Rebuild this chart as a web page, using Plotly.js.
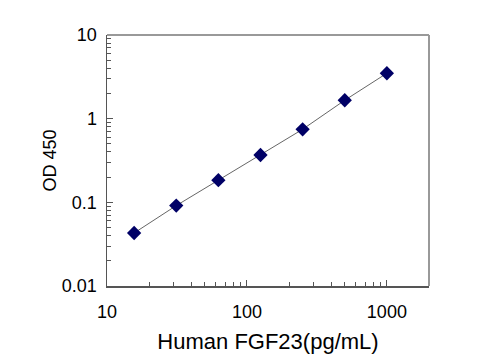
<!DOCTYPE html>
<html>
<head>
<meta charset="utf-8">
<script src="https://cdn.plot.ly/plotly-3.0.1.min.js"></script>
<style>html,body{margin:0;padding:0;background:#fff;}#chart{width:500px;height:360px;}</style>
</head>
<body>
<div id="chart"></div>
<script>
var concentration = [15.625, 31.25, 62.5, 125, 250, 500, 1000];
var od450 = [0.043, 0.0914, 0.184, 0.368, 0.746, 1.66, 3.49];
var xTickVals = [10, 100, 1000];
var xTickText = ["10", "100", "1000"];
var yTickVals = [0.01, 0.1, 1, 10];
var yTickText = ["0.01", "0.1", "1", "10"];

var traces = [
  {
    x: concentration, y: od450, type: 'scatter', mode: 'lines',
    line: {color: '#666666', width: 1}, hoverinfo: 'skip', showlegend: false
  },
  {
    x: concentration, y: od450, type: 'scatter', mode: 'markers',
    marker: {symbol: 'diamond', size: 11, color: '#000066', line: {width: 0}},
    showlegend: false
  }
];

var layout = {
  width: 500, height: 360,
  margin: {l: 107, r: 71, t: 35, b: 74, autoexpand: false},
  paper_bgcolor: '#ffffff', plot_bgcolor: '#ffffff',
  font: {family: 'Liberation Sans, Arial, sans-serif', color: '#000', size: 18},
  showlegend: false,
  xaxis: {
    type: 'log', range: [1, Math.log10(2000)],
    tickmode: 'array', tickvals: xTickVals, ticktext: xTickText,
    ticks: 'inside', ticklen: 6, tickcolor: '#555',
    minor: {ticks: 'inside', ticklen: 4, tickcolor: '#555', dtick: 'D1'},
    showgrid: false, zeroline: false,
    showline: true, linecolor: '#555', linewidth: 1.5,
    tickfont: {size: 18}, ticklabelstandoff: 9,
    automargin: false,
    title: {text: 'Human FGF23(pg/mL)', font: {size: 22}, standoff: 12}
  },
  yaxis: {
    type: 'log', range: [-2, 1],
    tickmode: 'array', tickvals: yTickVals, ticktext: yTickText,
    ticks: 'inside', ticklen: 6, tickcolor: '#555',
    minor: {ticks: 'inside', ticklen: 4, tickcolor: '#555', dtick: 'D1'},
    showgrid: false, zeroline: false,
    showline: true, linecolor: '#555', linewidth: 1.5,
    tickfont: {size: 18}, ticklabelstandoff: 5,
    automargin: false,
    title: {text: 'OD 450', font: {size: 18}, standoff: 0}
  },
  shapes: [
    {type: 'line', xref: 'paper', yref: 'paper', x0: 0, x1: 1, y0: 1, y1: 1, line: {color: '#999', width: 2}},
    {type: 'line', xref: 'paper', yref: 'paper', x0: 1, x1: 1, y0: 0, y1: 1, line: {color: '#999', width: 2}}
  ]
};

Plotly.newPlot('chart', traces, layout, {displayModeBar: false, staticPlot: true});
</script>
</body>
</html>
